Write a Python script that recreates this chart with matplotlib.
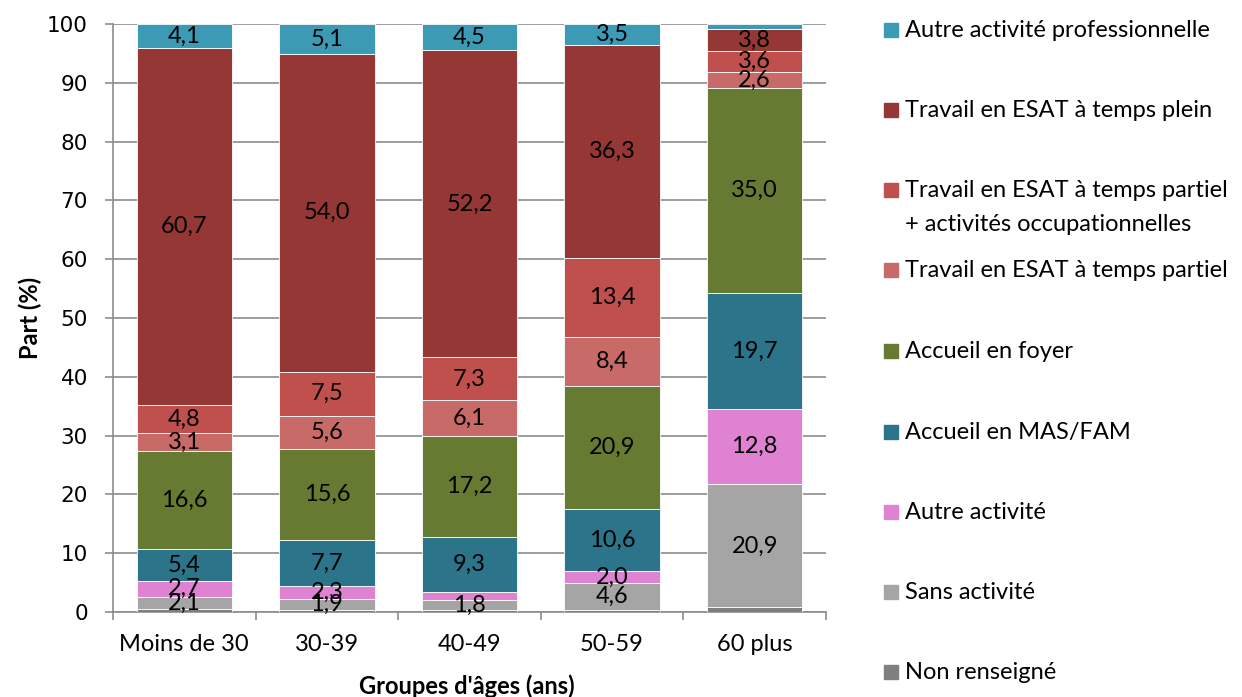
import matplotlib
matplotlib.use('Agg')
import matplotlib.pyplot as plt
import numpy as np

plt.rcParams['font.family'] = ['Lato', 'DejaVu Sans']

groups = ['Moins de 30', '30-39', '40-49', '50-59', '60 plus']

series = [
    'Non renseigné',
    'Sans activité',
    'Autre activité',
    'Accueil en MAS/FAM',
    'Accueil en foyer',
    'Travail en ESAT à temps partiel',
    'Travail en ESAT à temps partiel\n+ activités occupationnelles',
    'Travail en ESAT à temps plein',
    'Autre activité professionnelle',
]

non_renseigne = [0.5, 0.3, 0.3, 0.3, 0.8]
sans_activite = [2.1, 1.9, 1.8, 4.6, 20.9]
autre_activite = [2.7, 2.3, 1.3, 2.0, 12.8]
mas_fam = [5.4, 7.7, 9.3, 10.6, 19.7]
foyer = [16.6, 15.6, 17.2, 20.9, 35.0]
esat_partiel = [3.1, 5.6, 6.1, 8.4, 2.6]
esat_partiel_occ = [4.8, 7.5, 7.3, 13.4, 3.6]
esat_plein = [60.7, 54.0, 52.2, 36.3, 3.8]
autre_pro = [4.1, 5.1, 4.5, 3.5, 0.8]

values = [non_renseigne, sans_activite, autre_activite, mas_fam, foyer,
          esat_partiel, esat_partiel_occ, esat_plein, autre_pro]

colors = ['#7F7F7F', '#A5A5A5', '#DE82D1', '#2B7489', '#667B31',
          '#C86A68', '#C0504D', '#953735', '#3C9AB5']

# which segments get a value label
show_label = [False, True, True, True, True, True, True, True, True]

fig = plt.figure(figsize=(12.42, 6.97), dpi=100)
ax = fig.add_axes([113 / 1242, 1 - 612 / 697, (826 - 113) / 1242, (612 - 24) / 697])

x = np.arange(len(groups))
bottom = np.zeros(len(groups))
for name, vals, col, lab in zip(series, values, colors, show_label):
    vals = np.array(vals)
    ax.bar(x, vals, 0.67, bottom=bottom, color=col, edgecolor='white',
           linewidth=0.6, zorder=3)
    if lab:
        for xi, b, v in zip(x, bottom, vals):
            if v >= 1.5:
                ax.text(xi, b + v / 2, f'{v:.1f}'.replace('.', ','),
                        ha='center', va='center', fontsize=17, zorder=4)
    bottom += vals

ax.set_xlim(-0.5, 4.5)
ax.set_ylim(0, 100)
ax.set_yticks(range(0, 101, 10))
ax.yaxis.grid(True, color='#8C8C8C', linewidth=1.2, zorder=0)
ax.set_axisbelow(True)
for s in ['top', 'right']:
    ax.spines[s].set_visible(False)
for s in ['left', 'bottom']:
    ax.spines[s].set_color('#8C8C8C')
    ax.spines[s].set_linewidth(1.2)

ax.set_xticks(x)
ax.set_xticklabels(groups, fontsize=17)
ax.tick_params(axis='x', length=0, pad=16)
ax.set_xticks(np.arange(-0.5, 5, 1), minor=True)
ax.tick_params(axis='x', which='minor', length=6, color='#8C8C8C', width=1.2)
ax.tick_params(axis='y', length=6, color='#8C8C8C', width=1.2, pad=12)
for t in ax.get_yticklabels():
    t.set_family('DejaVu Sans')
    t.set_fontsize(15.5)

fig.text(30 / 1242, 1 - 318 / 697, 'Part (%)', rotation=90, ha='center',
         va='center', fontsize=17, fontweight='bold')
fig.text(467 / 1242, 1 - 686 / 697, "Groupes d'âges (ans)", ha='center',
         va='center', fontsize=17, fontweight='bold')

# legend drawn by hand so the wrapped entry keeps its marker on the first line
legend_y = [30, 110, 190, 270, 351, 432, 512, 592, 672]
for yy, name, col in zip(legend_y, series[::-1], colors[::-1]):
    fy = 1 - yy / 697
    fig.patches.append(plt.Rectangle((884 / 1242, fy - 7 / 697), 14 / 1242, 14 / 697,
                                     transform=fig.transFigure, color=col))
    fig.text(905 / 1242, fy + 10 / 697, name, ha='left', va='top',
             fontsize=17, linespacing=1.75)

fig.savefig('out.png', dpi=100)
